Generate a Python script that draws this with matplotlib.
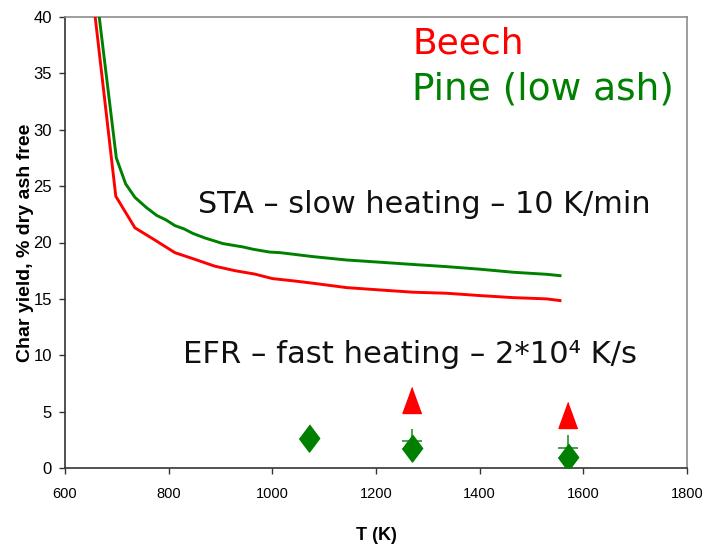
import matplotlib
matplotlib.use("Agg")
import matplotlib.pyplot as plt
import warnings
warnings.filterwarnings("ignore")

# ---- data ----
beech_T = [650, 698, 735, 774, 812, 851, 889, 928, 966, 1000, 1040, 1078, 1143,
           1208, 1272, 1336, 1401, 1465, 1529, 1555]
beech_y = [43.3, 24.1, 21.3, 20.2, 19.1, 18.5, 17.9, 17.5, 17.2, 16.8, 16.6, 16.39,
           16.0, 15.79, 15.59, 15.5, 15.29, 15.11, 15.0, 14.85]

pine_T = [660, 699, 717, 735, 757, 777, 795, 812, 830, 847, 870, 905, 944, 963, 995,
          1015, 1078, 1143, 1208, 1272, 1336, 1401, 1465, 1529, 1555]
pine_y = [42.3, 27.5, 25.2, 24.0, 23.1, 22.4, 22.0, 21.5, 21.2, 20.8, 20.4, 19.9,
          19.6, 19.4, 19.15, 19.1, 18.75, 18.45, 18.25, 18.05, 17.86, 17.63, 17.36,
          17.18, 17.06]

efr_beech_T = [1270, 1570]
efr_beech_y = [6.0, 4.7]

efr_pine_T = [1070, 1270, 1570]
efr_pine_y = [2.63, 1.8, 0.95]

efr_mean_T = [1270, 1570]
efr_mean_y = [2.4, 1.8]
efr_mean_err = [1.1, 1.1]

x_ticks = [600, 800, 1000, 1200, 1400, 1600, 1800]
y_ticks = [0, 5, 10, 15, 20, 25, 30, 35, 40]

RED = "#ff0000"
GREEN = "#008000"

tick_font = ["Liberation Sans", "DejaVu Sans"]

fig = plt.figure(figsize=(7.02, 5.46), dpi=100)
ax = fig.add_axes([65 / 702, 1 - 468 / 546, (687 - 65) / 702, (468 - 17) / 546])

ax.plot(beech_T, beech_y, color=RED, lw=2.1, solid_joinstyle="round", zorder=3)
ax.plot(pine_T, pine_y, color=GREEN, lw=2.1, solid_joinstyle="round", zorder=3)

tri = [(0, 1), (-0.73, -1), (0.73, -1)]
dia = [(0, 1), (0.75, 0), (0, -1), (-0.75, 0)]
ax.plot(efr_beech_T, efr_beech_y, ls="none", marker=tri, ms=18.7, color=RED,
        mec=RED, zorder=4)
ax.errorbar(efr_mean_T, efr_mean_y, yerr=efr_mean_err, fmt="_", ms=14.5, mew=1.2,
            color="#2a902a", elinewidth=1.2, capsize=0, zorder=4)
ax.plot(efr_pine_T, efr_pine_y, ls="none", marker=dia, ms=19.5, color=GREEN,
        mec=GREEN, zorder=5)

ax.set_xlim(600, 1800)
ax.set_ylim(0, 40)
ax.set_xticks(x_ticks)
ax.set_yticks(y_ticks)
ax.set_xticklabels([str(t) for t in x_ticks], family=tick_font, fontsize=10.5)
ax.set_yticklabels([str(t) for t in y_ticks], family=tick_font, fontsize=12)
ax.tick_params(axis="both", direction="out", length=4.5, width=1.0, color="#333333")
ax.tick_params(axis="x", pad=9)
ax.tick_params(axis="y", pad=5)

for s in ["left", "bottom"]:
    ax.spines[s].set_color("#333333")
    ax.spines[s].set_linewidth(1.2)
for s in ["top", "right"]:
    ax.spines[s].set_color("#8c8c8c")
    ax.spines[s].set_linewidth(1.2)

ax.set_xlabel("T (K)", family=tick_font, fontsize=13, fontweight="bold")
ax.set_ylabel("Char yield, % dry ash free", family=tick_font,
              fontsize=14, fontweight="bold")
ax.xaxis.set_label_coords(0.5, -0.131)
ax.yaxis.set_label_coords(-0.05, 0.5)

ax.text(1271, 36.8, "Beech", color=RED, fontsize=26, family="DejaVu Sans",
        va="baseline", ha="left")
ax.text(1269, 32.65, "Pine (low ash)", color=GREEN, fontsize=27, family="DejaVu Sans",
        va="baseline", ha="left")
ax.text(856, 22.6, "STA \u2013 slow heating \u2013 10 K/min", color="#111111",
        fontsize=21.8, family="DejaVu Sans", va="baseline", ha="left")
ax.text(828, 9.3, "EFR \u2013 fast heating \u2013 2*10\u2074 K/s", color="#111111",
        fontsize=22.1, family="DejaVu Sans", va="baseline", ha="left")

fig.savefig("out.png", dpi=100, facecolor="white")
